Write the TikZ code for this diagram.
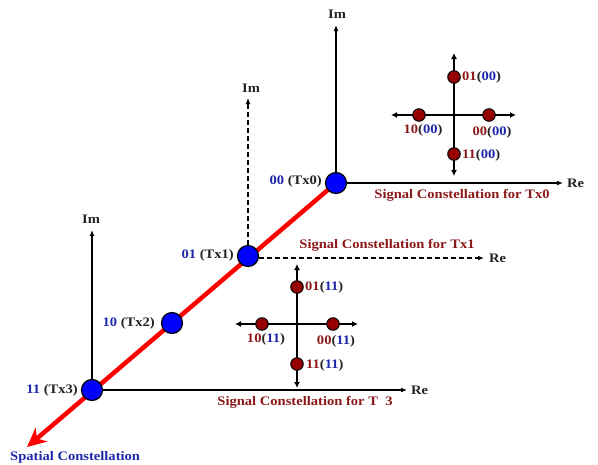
\documentclass[tikz,border=0pt]{standalone}
\usepackage{fontspec}
\setmainfont{Liberation Serif}[FakeStretch=1.12]
\usetikzlibrary{arrows.meta,backgrounds}
\definecolor{dred}{RGB}{140,25,25}
\definecolor{pred}{RGB}{150,0,0}
\definecolor{tblue}{RGB}{30,40,170}
\definecolor{par}{RGB}{35,35,35}
\newcommand{\bl}[1]{\textcolor{tblue}{#1}}
\newcommand{\rd}[1]{\textcolor{dred}{#1}}
\newcommand{\cl}[2]{\rd{#1}\textcolor{par}{(}\bl{#2}\textcolor{par}{)}}
\begin{document}
\begin{tikzpicture}[x=1pt,y=-1pt,
  txnode/.style={circle,draw=black,line width=1.2pt,fill=blue,minimum size=21pt,inner sep=0pt},
  ptnode/.style={circle,draw=black,line width=1pt,fill=pred,minimum size=12.5pt,inner sep=0pt},
  ax/.style={line width=1.4pt,-{Latex[length=6pt,width=5pt]}},
  dax/.style={ax,line width=1.7pt,dash pattern=on 5pt off 3pt},
  cax/.style={line width=2.4pt,-{Latex[length=6pt,width=6pt]}},
  lbl/.style={font=\bfseries\fontsize{13}{15}\selectfont,inner sep=0pt,text=par},
  clbl/.style={lbl,text=dred}]
\useasboundingbox (0,0) rectangle (598,464);
% transmit antennas
\node[txnode] (tx0) at (336,183) {};
\node[txnode] (tx1) at (248,256) {};
\node[txnode] (tx2) at (172,323) {};
\node[txnode] (tx3) at (92,390) {};
\coordinate (tip) at (27,447);
\begin{scope}[on background layer]
\draw[red,line width=4.5pt,-{Stealth[length=19pt,width=18pt,inset=6pt]}] (tx0.center) -- (tip);
\end{scope}
% axes of Tx0
\coordinate (im0) at (336,25);
\coordinate (re0) at (563,183);
\draw[ax] (tx0.north) -- (im0);
\draw[ax] (tx0.east) -- (re0);
\node[lbl] (im0l) at (337,14) {Im};
\node[lbl,anchor=west] (re0l) at (567,183) {Re};
% axes of Tx1 (dashed)
\coordinate (im1) at (248,98);
\coordinate (re1) at (484,258);
\draw[dax] (tx1.north) -- (im1);
\draw[dax] (tx1.east |- re1) -- (re1);
\node[lbl] (im1l) at (251,88) {Im};
\node[lbl,anchor=west] (re1l) at (489,258) {Re};
% axes of Tx3
\coordinate (im3) at (92,230);
\coordinate (re3) at (407,390);
\draw[ax] (tx3.north) -- (im3);
\draw[ax] (tx3.east) -- (re3);
\node[lbl] (im3l) at (91,219) {Im};
\node[lbl,anchor=west] (re3l) at (411,390) {Re};
% antenna labels
\node[lbl,anchor=east] (l0) at (322,181) {\bl{00} (Tx0)};
\node[lbl,anchor=east] (l1) at (234,255) {\bl{01} (Tx1)};
\node[lbl,anchor=east] (l2) at (155,323) {\bl{10} (Tx2)};
\node[lbl,anchor=east] (l3) at (78,390) {\bl{11} (Tx3)};
% captions
\node[clbl] (s0) at (462,195) {Signal Constellation for Tx0};
\node[clbl] (s1) at (387,245) {Signal Constellation for Tx1};
\node[clbl] (s3) at (305,402) {Signal Constellation for T\phantom{x}3};
\node[lbl,text=tblue,anchor=west] (sp) at (10,457) {Spatial Constellation};
% constellation for 00
\coordinate (c0) at (454,115);
\coordinate (c0n) at (454,53);
\coordinate (c0s) at (454,176);
\coordinate (c0w) at (391,115);
\coordinate (c0e) at (516,115);
\foreach \d in {n,s,w,e} \draw[cax] (c0) -- (c0\d);
\node[ptnode] (a01) at (454,77) {};
\node[ptnode] (a11) at (454,154) {};
\node[ptnode] (a10) at (419,115) {};
\node[ptnode] (a00) at (489,115) {};
\node[lbl,anchor=west] (a01l) at (462,77) {\cl{01}{00}};
\node[lbl,anchor=west] (a11l) at (462,155) {\cl{11}{00}};
\node[lbl] (a10l) at (423,130) {\cl{10}{00}};
\node[lbl] (a00l) at (492,132) {\cl{00}{00}};
% constellation for 11
\coordinate (c3) at (297,324);
\coordinate (c3n) at (297,264);
\coordinate (c3s) at (297,388);
\coordinate (c3w) at (235,324);
\coordinate (c3e) at (358,324);
\foreach \d in {n,s,w,e} \draw[cax] (c3) -- (c3\d);
\node[ptnode] (b01) at (297,287) {};
\node[ptnode] (b11) at (297,364) {};
\node[ptnode] (b10) at (262,324) {};
\node[ptnode] (b00) at (333,324) {};
\node[lbl,anchor=west] (b01l) at (305,287) {\cl{01}{11}};
\node[lbl,anchor=west] (b11l) at (306,365) {\cl{11}{11}};
\node[lbl] (b10l) at (266,339) {\cl{10}{11}};
\node[lbl] (b00l) at (336,341) {\cl{00}{11}};
\end{tikzpicture}
\end{document}
